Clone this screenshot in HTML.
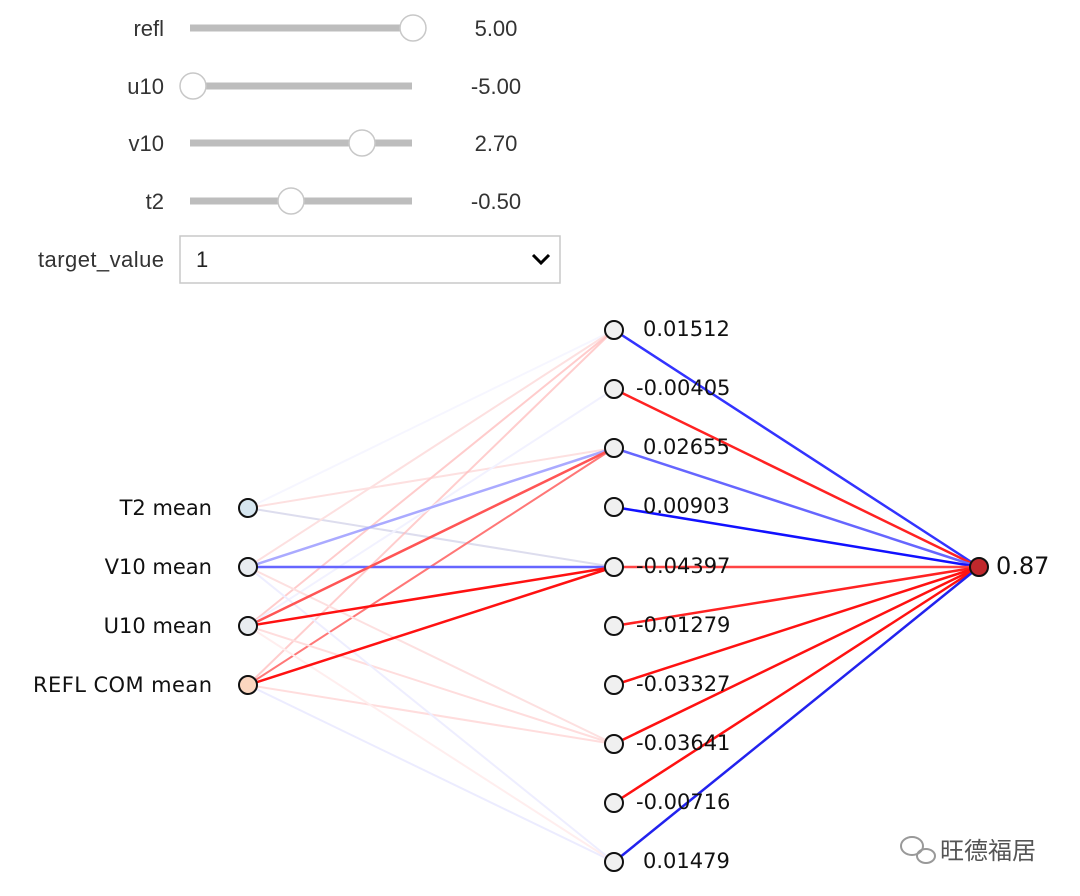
<!DOCTYPE html>
<html><head><meta charset="utf-8"><style>
body{margin:0;background:#fff;width:1080px;height:896px;overflow:hidden;font-family:"Liberation Sans","Noto Sans CJK SC",sans-serif;}
</style></head><body>
<svg width="1080" height="896" xmlns="http://www.w3.org/2000/svg" style="position:absolute;left:0;top:0">
<g font-family="Liberation Sans, sans-serif" font-size="22" fill="#333">
<text x="164" y="36" text-anchor="end">refl</text>
<text x="164" y="94" text-anchor="end">u10</text>
<text x="164" y="151" text-anchor="end">v10</text>
<text x="164" y="209" text-anchor="end">t2</text>
<text x="164" y="267" text-anchor="end" textLength="126">target_value</text>
<text x="496" y="36" text-anchor="middle">5.00</text>
<text x="496" y="94" text-anchor="middle">-5.00</text>
<text x="496" y="151" text-anchor="middle">2.70</text>
<text x="496" y="209" text-anchor="middle">-0.50</text>
</g>
<g stroke="#bdbdbd" stroke-width="7">
<line x1="190" y1="28" x2="412" y2="28"/><line x1="190" y1="86" x2="412" y2="86"/>
<line x1="190" y1="143" x2="412" y2="143"/><line x1="190" y1="201" x2="412" y2="201"/>
</g>
<g fill="#fff" stroke="#c8c8c8" stroke-width="1.5">
<circle cx="413" cy="28" r="13"/><circle cx="193" cy="86" r="13"/><circle cx="362" cy="143" r="13"/><circle cx="291" cy="201" r="13"/>
</g>
<rect x="180" y="236" width="380" height="47" fill="#fff" stroke="#c8c8c8" stroke-width="1.5"/>
<text x="196" y="267" font-size="22" fill="#222">1</text>
<polyline points="533,255 541,263 549,255" fill="none" stroke="#000" stroke-width="3"/>
<g stroke-width="2" fill="none">
<line x1="248" y1="508" x2="614" y2="330" stroke="#f6f6ff" />
<line x1="248" y1="508" x2="614" y2="448" stroke="#fde0e0" />
<line x1="248" y1="508" x2="614" y2="567" stroke="#dde" />
<line x1="248" y1="567" x2="614" y2="330" stroke="#fde0e0" />
<line x1="248" y1="626" x2="614" y2="330" stroke="#fcc" />
<line x1="248" y1="685" x2="614" y2="330" stroke="#fbbb" />
<line x1="248" y1="626" x2="614" y2="389" stroke="#f2f2ff" />
<line x1="248" y1="685" x2="614" y2="448" stroke="#f77" />
<line x1="248" y1="567" x2="614" y2="744" stroke="#fde0e0" />
<line x1="248" y1="626" x2="614" y2="744" stroke="#fdd" />
<line x1="248" y1="685" x2="614" y2="744" stroke="#fdd" />
<line x1="248" y1="685" x2="614" y2="862" stroke="#ececff" />
<line x1="248" y1="626" x2="614" y2="862" stroke="#fee" />
<line x1="248" y1="567" x2="614" y2="862" stroke="#eef" />
<line x1="248" y1="567" x2="614" y2="448" stroke="#aaf" stroke-width="2.5"/>
<line x1="248" y1="567" x2="614" y2="567" stroke="#66f" stroke-width="2.5"/>
<line x1="248" y1="626" x2="614" y2="448" stroke="#f55" stroke-width="2.5"/>
<line x1="248" y1="626" x2="614" y2="567" stroke="#f11" stroke-width="2.5"/>
<line x1="248" y1="685" x2="614" y2="567" stroke="#f11" stroke-width="2.5"/>
<g stroke-width="2.5">
<line x1="614" y1="330" x2="979" y2="567" stroke="#33f"/>
<line x1="614" y1="389" x2="979" y2="567" stroke="#f22"/>
<line x1="614" y1="448" x2="979" y2="567" stroke="#66f"/>
<line x1="614" y1="507" x2="979" y2="567" stroke="#11f"/>
<line x1="614" y1="567" x2="979" y2="567" stroke="#f44"/>
<line x1="614" y1="626" x2="979" y2="567" stroke="#f22"/>
<line x1="614" y1="685" x2="979" y2="567" stroke="#f11"/>
<line x1="614" y1="744" x2="979" y2="567" stroke="#f11"/>
<line x1="614" y1="803" x2="979" y2="567" stroke="#f11"/>
<line x1="614" y1="862" x2="979" y2="567" stroke="#22e"/>
</g>
</g>
<g stroke="#111" stroke-width="2">
<circle cx="248" cy="508" r="9" fill="#d6e6f0"/>
<circle cx="248" cy="567" r="9" fill="#e8ecf0"/>
<circle cx="248" cy="626" r="9" fill="#e8ecf0"/>
<circle cx="248" cy="685" r="9" fill="#fbd6c0"/>
<g fill="#f0f0f0">
<circle cx="614" cy="330" r="9"/><circle cx="614" cy="389" r="9"/><circle cx="614" cy="448" r="9"/>
<circle cx="614" cy="507" r="9"/><circle cx="614" cy="567" r="9"/><circle cx="614" cy="626" r="9"/>
<circle cx="614" cy="685" r="9"/><circle cx="614" cy="744" r="9"/><circle cx="614" cy="803" r="9"/>
<circle cx="614" cy="862" r="9"/></g>
<circle cx="979" cy="567" r="9" fill="#c0282c"/>
</g>
<g font-family="DejaVu Sans, sans-serif" font-size="21" fill="#111">
<text x="212" y="515" text-anchor="end">T2 mean</text>
<text x="212" y="574" text-anchor="end">V10 mean</text>
<text x="212" y="633" text-anchor="end">U10 mean</text>
<text x="212" y="692" text-anchor="end" textLength="179">REFL COM mean</text>
<text x="643" y="336">0.01512</text>
<text x="636" y="395">-0.00405</text>
<text x="643" y="454">0.02655</text>
<text x="643" y="513">0.00903</text>
<text x="636" y="573">-0.04397</text>
<text x="636" y="632">-0.01279</text>
<text x="636" y="691">-0.03327</text>
<text x="636" y="750">-0.03641</text>
<text x="636" y="809">-0.00716</text>
<text x="643" y="868">0.01479</text>
<text x="996" y="574" font-size="24">0.87</text>
</g>
<g fill="none" stroke="#999" stroke-width="2">
<ellipse cx="912" cy="846" rx="11" ry="9"/><ellipse cx="926" cy="856" rx="9" ry="7"/>
</g>
<text x="940" y="859" font-family="Noto Sans CJK SC, sans-serif" font-size="24" fill="#555">旺德福居</text>
</svg>
</body></html>
